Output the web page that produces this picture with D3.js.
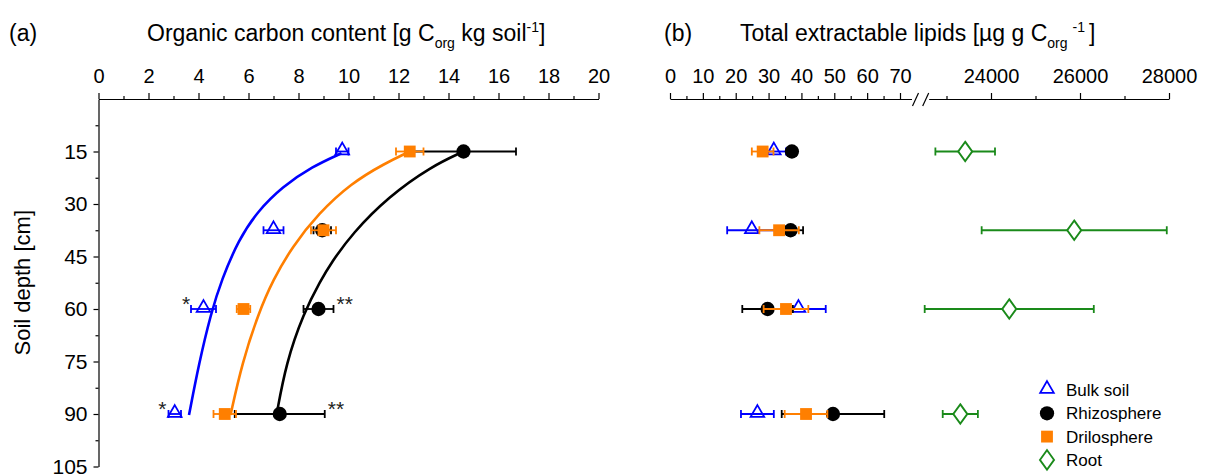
<!DOCTYPE html>
<html>
<head>
<meta charset="utf-8">
<script src="https://cdn.jsdelivr.net/npm/d3@7"></script>
<style>
  body { margin: 0; background: #fff; }
  svg { display: block; font-family: "Liberation Sans", Arial, sans-serif; }
  .tick text { font-family: "Liberation Sans", Arial, sans-serif; }
</style>
</head>
<body>
<svg id="chart" width="1214" height="475"></svg>
<script>
// ---------------- DATA ----------------
const depths = [15, 37.5, 60, 90];

// Panel (a): organic carbon content [g Corg kg soil-1]
const bulkC      = [9.75, 7.0, 4.2, 3.05];
const bulkCErr   = [0.25, 0.4, 0.5, 0.25];
const rhizoC     = [14.6, 8.95, 8.8, 7.25];
const rhizoCErr  = [2.1, 0.35, 0.6, 1.8];
const driloC     = [12.45, 9.0, 5.8, 5.05];
const driloCErr  = [0.55, 0.5, 0.27, 0.45];

// fitted curves (x value at depth)
const bulkCurveDepths  = [15.5, 19.3, 25.1, 32.2, 40.3, 51.7, 61.2, 75.5, 90.3];
const bulkCurve        = [9.72, 8.55, 7.35, 6.35, 5.6, 4.92, 4.5, 4.02, 3.62];
const driloCurveDepths = [15, 18.4, 24.1, 32.7, 42.2, 51.7, 61.2, 75.5, 90.3];
const driloCurve       = [12.45, 11.45, 10.1, 8.8, 7.75, 6.98, 6.4, 5.74, 5.28];
const rhizoCurveDepths = [15, 19.3, 27.9, 38.4, 46.9, 51.7, 61.2, 75.5, 90.3];
const rhizoCurve       = [14.6, 13.3, 11.6, 10.15, 9.3, 8.9, 8.2, 7.5, 7.12];

// significance marks (panel a)
const sigLabels  = ["*", "**", "*", "**"];
const sigDepths  = [60, 60, 90, 90];
const sigX       = [3.5, 9.85, 2.55, 9.5];

// Panel (b): total extractable lipids [µg g Corg-1]
const bulkL      = [31.6, 24.9, 39.1, 26.6];
const bulkLErr   = [3.7, 7.5, 8.3, 5.0];
const rhizoL     = [37.1, 36.7, 29.7, 49.6];
const rhizoLErr  = [1.5, 3.8, 7.7, 15.6];
const driloL     = [28.2, 33.2, 35.3, 41.4];
const driloLErr  = [3.3, 6.0, 6.8, 6.5];
const rootL      = [23420, 25870, 24410, 23310];
const rootLErr   = [670, 2080, 1900, 395];

// axes ticks
const xTicksA     = [0, 2, 4, 6, 8, 10, 12, 14, 16, 18, 20];
const xMinorA     = [1, 3, 5, 7, 9, 11, 13, 15, 17, 19];
const yTicks      = [15, 30, 45, 60, 75, 90, 105];
const yMinor      = [7.5, 22.5, 37.5, 52.5, 67.5, 82.5, 97.5];
const xTicksBL    = [0, 10, 20, 30, 40, 50, 60, 70];
const xMinorBL    = [5, 15, 25, 35, 45, 55, 65];
const xTicksBR    = [24000, 26000, 28000];
const xMinorBR    = [23000, 25000, 27000];
const breakLeftMax  = 73.5;
const breakRightMin = 22600;

const legendLabels = ["Bulk soil", "Rhizosphere", "Drilosphere", "Root"];

// ---------------- STYLE ----------------
const BLUE = "#0000ff", BLACK = "#000000", ORANGE = "#ff7f00", GREEN = "#1a8a1a";
const XFONT = 20, YFONT = 21, TFONT = 23;

const svg = d3.select("#chart");

// scales
const xA = d3.scaleLinear().domain([0, 20]).range([98.5, 598.5]);
const yD = d3.scaleLinear().domain([0, 105]).range([99, 466.5]);
const xBL = d3.scaleLinear().domain([0, 70]).range([670, 900]);
const xBR = d3.scaleLinear().domain([24000, 28000]).range([991, 1169]);
const axisY = yD(0);

// ---------------- AXES ----------------
function styleAxis(size) {
  return g => {
    g.selectAll("path, line").attr("stroke", "#000").attr("stroke-width", 1.2);
    g.selectAll("text").attr("font-size", size).attr("fill", "#000");
  };
}

// panel a x axis
svg.append("g").attr("transform", `translate(0,${axisY})`)
  .call(d3.axisTop(xA).tickValues(xTicksA).tickSize(6).tickSizeOuter(0).tickPadding(10))
  .call(styleAxis(XFONT));
svg.append("g").attr("transform", `translate(0,${axisY})`)
  .call(d3.axisTop(xA).tickValues(xMinorA).tickSize(3).tickFormat(""))
  .call(g => g.select(".domain").remove())
  .call(styleAxis(XFONT));

// y axis
svg.append("g").attr("transform", `translate(${xA(0)},0)`)
  .call(d3.axisLeft(yD).tickValues(yTicks).tickSize(5).tickSizeOuter(0).tickPadding(6))
  .call(styleAxis(YFONT));
svg.append("g").attr("transform", `translate(${xA(0)},0)`)
  .call(d3.axisLeft(yD).tickValues(yMinor).tickSize(3).tickFormat(""))
  .call(g => g.select(".domain").remove())
  .call(styleAxis(YFONT));

// panel b broken axis
const xBLaxis = d3.scaleLinear().domain([0, breakLeftMax]).range([xBL(0), xBL(breakLeftMax)]);
const xBRaxis = d3.scaleLinear().domain([breakRightMin, 28000]).range([xBR(breakRightMin), xBR(28000)]);
svg.append("g").attr("transform", `translate(0,${axisY})`)
  .call(d3.axisTop(xBLaxis).tickValues(xTicksBL).tickSize(6).tickSizeOuter(0).tickPadding(10))
  .call(styleAxis(XFONT));
svg.append("g").attr("transform", `translate(0,${axisY})`)
  .call(d3.axisTop(xBLaxis).tickValues(xMinorBL).tickSize(3).tickFormat(""))
  .call(g => g.select(".domain").remove())
  .call(styleAxis(XFONT));
svg.append("g").attr("transform", `translate(0,${axisY})`)
  .call(d3.axisTop(xBRaxis).tickValues(xTicksBR).tickSize(6).tickSizeOuter(0).tickPadding(10).tickFormat(d3.format("d")))
  .call(styleAxis(XFONT));
svg.append("g").attr("transform", `translate(0,${axisY})`)
  .call(d3.axisTop(xBRaxis).tickValues(xMinorBR).tickSize(3).tickFormat(""))
  .call(g => g.select(".domain").remove())
  .call(styleAxis(XFONT));
// break marks
const bx1 = xBL(breakLeftMax) + 1, bx2 = xBR(breakRightMin) - 6;
[bx1, bx2].forEach(bx => {
  svg.append("line").attr("x1", bx).attr("y1", axisY + 7).attr("x2", bx + 6).attr("y2", axisY - 6)
    .attr("stroke", "#000").attr("stroke-width", 1.2);
});

// ---------------- TITLES ----------------
function title(x, parts) {
  const t = svg.append("text").attr("x", x).attr("y", 41).attr("font-size", TFONT).attr("fill", "#000");
  parts.forEach(p => {
    const ts = t.append("tspan").text(p.t);
    if (p.fs) ts.attr("font-size", p.fs);
    if (p.dy) ts.attr("dy", p.dy);
    if (p.dx) ts.attr("dx", p.dx);
  });
}
svg.append("text").attr("x", 9).attr("y", 41).attr("font-size", TFONT).text("(a)");
svg.append("text").attr("x", 664).attr("y", 41).attr("font-size", TFONT).text("(b)");
title(147, [{t: "Organic carbon content [g C"}, {t: "org", fs: 14, dy: 7}, {t: " kg soil", dy: -7},
            {t: "-1", fs: 14, dy: -9}, {t: "]", dy: 9}]);
title(740, [{t: "Total extractable lipids [µg g C"}, {t: "org", fs: 14, dy: 7},
            {t: "-1", fs: 14, dy: -16, dx: 5}, {t: "]", dy: 9, dx: 4}]);

svg.append("text").attr("transform", `translate(30,${(yD(0) + yD(105)) / 2}) rotate(-90)`)
  .attr("text-anchor", "middle").attr("font-size", 22).text("Soil depth [cm]");

// ---------------- CURVES (panel a) ----------------
const lineGen = d3.line().curve(d3.curveBasis);
function curve(xs, ds, color) {
  svg.append("path")
    .attr("d", lineGen(xs.map((v, i) => [xA(v), yD(ds[i])])))
    .attr("fill", "none").attr("stroke", color).attr("stroke-width", 2.6);
}
curve(bulkCurve, bulkCurveDepths, BLUE);
curve(driloCurve, driloCurveDepths, ORANGE);
curve(rhizoCurve, rhizoCurveDepths, BLACK);

// ---------------- MARKERS ----------------
const symTri = d3.symbol().type(d3.symbolTriangle).size(80);
const symCirc = d3.symbol().type(d3.symbolCircle).size(160);
const symSq = d3.symbol().type(d3.symbolSquare).size(140);
const symDia = d3.symbol().type(d3.symbolDiamond).size(110);

function series(xScale, vals, errs, color, kind) {
  const g = svg.append("g");
  vals.forEach((v, i) => {
    const cy = yD(depths[i]);
    const x0 = xScale(v - errs[i]), x1 = xScale(v + errs[i]), cx = xScale(v);
    g.append("line").attr("x1", x0).attr("x2", x1).attr("y1", cy).attr("y2", cy)
      .attr("stroke", color).attr("stroke-width", 1.8);
    [x0, x1].forEach(xx => g.append("line").attr("x1", xx).attr("x2", xx)
      .attr("y1", cy - 4).attr("y2", cy + 4).attr("stroke", color).attr("stroke-width", 1.8));
    drawMarker(g, cx, cy, color, kind);
  });
}
function drawMarker(g, cx, cy, color, kind) {
  if (kind === "tri") {
    g.append("path").attr("d", symTri).attr("transform", `translate(${cx},${cy - 1})`)
      .attr("fill", "none").attr("stroke", color).attr("stroke-width", 1.8);
  } else if (kind === "circ") {
    g.append("path").attr("d", symCirc).attr("transform", `translate(${cx},${cy})`).attr("fill", color);
  } else if (kind === "sq") {
    g.append("path").attr("d", symSq).attr("transform", `translate(${cx},${cy})`).attr("fill", color);
  } else {
    g.append("path").attr("d", symDia).attr("transform", `translate(${cx},${cy}) scale(1.25,1)`)
      .attr("fill", "#fff").attr("stroke", color).attr("stroke-width", 1.6);
  }
}

series(xA, bulkC, bulkCErr, BLUE, "tri");
series(xA, rhizoC, rhizoCErr, BLACK, "circ");
series(xA, driloC, driloCErr, ORANGE, "sq");

series(xBL, bulkL, bulkLErr, BLUE, "tri");
series(xBL, rhizoL, rhizoLErr, BLACK, "circ");
series(xBL, driloL, driloLErr, ORANGE, "sq");
series(xBR, rootL, rootLErr, GREEN, "dia");

// significance marks
sigLabels.forEach((s, i) => {
  svg.append("text").attr("x", xA(sigX[i])).attr("y", yD(sigDepths[i]) + 2)
    .attr("font-size", 21).attr("fill", "#222").attr("text-anchor", "middle").text(s);
});

// ---------------- LEGEND ----------------
const legKinds = ["tri", "circ", "sq", "dia"];
const legColors = [BLUE, BLACK, ORANGE, GREEN];
const lg = svg.append("g");
legendLabels.forEach((lab, i) => {
  const ly = 390 + i * 23.3;
  drawMarker(lg, 1047, ly, legColors[i], legKinds[i]);
  lg.append("text").attr("x", 1066).attr("y", ly + 6).attr("font-size", 17).text(lab);
});
</script>
</body>
</html>
